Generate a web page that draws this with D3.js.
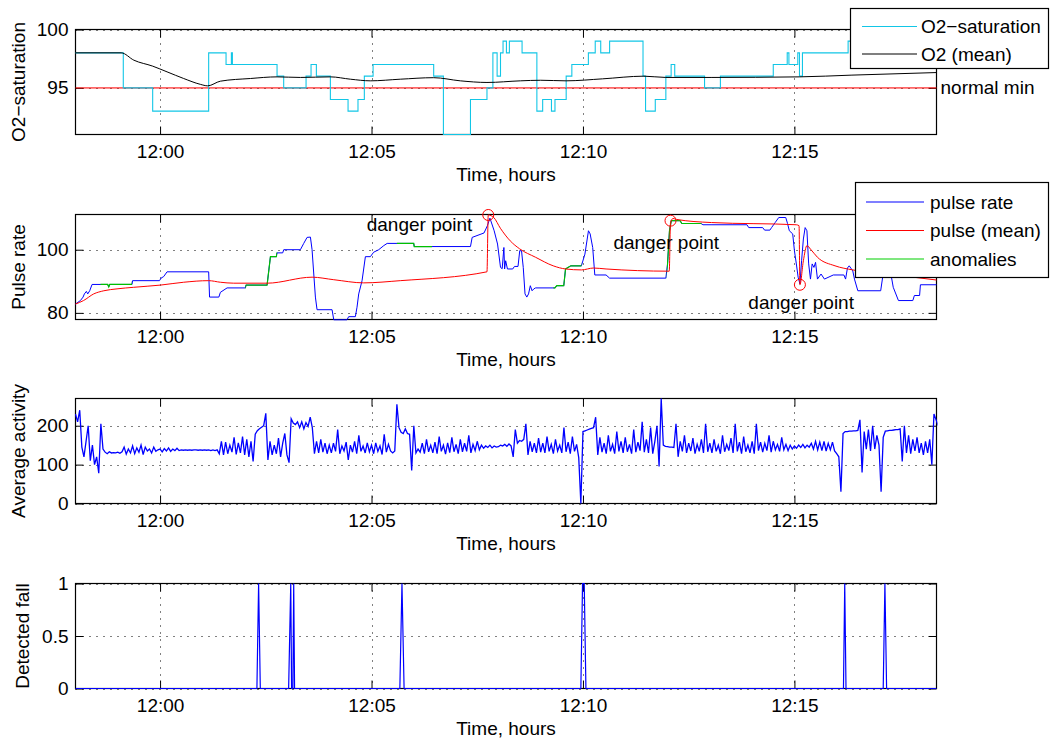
<!DOCTYPE html>
<html><head><meta charset="utf-8">
<script src="https://cdn.jsdelivr.net/npm/d3@7"></script>
<style>
body{margin:0;background:#fff;}
text{font-family:"Liberation Sans",Arial,Helvetica,sans-serif;fill:#000;}
</style></head><body>
<svg id="c" width="1051" height="741"></svg>
<script>
// ---------- DATA (time in minutes relative to 12:00) ----------
const o2Time  = [-2.0,-0.87,-0.175,1.149,1.56,1.686,1.71,2.766,2.923,3.452,3.57,3.696,4.027,4.445,4.68,4.83,5.037,6.47,6.70,7.34,7.73,7.87,7.97,8.05,8.11,8.19,8.26,8.56,8.91,9.047,9.255,9.338,9.603,9.737,10.128,10.29,10.42,10.63,11.42,11.48,11.71,11.96,12.085,12.17,12.875,13.25,14.5,14.83,14.87,15.08,15.12,15.19,16.27,18.36];
const o2Value = [98,95,93,98,97,98,97,96,95,96,97,96,94,93,94,96,97,96,91,94,95,98,96,98,99,98,99,98,93,94,93,94,96,97,98,99,98,99,96,93,94,96,97,96,95,96,97,98,97,98,96,98,99,99];

const o2MeanTime  = [-2.0,-0.92,-0.62,-0.175,0.165,0.558,0.952,1.125,1.426,2.136,2.766,3.318,4.027,4.5,4.97,5.68,6.47,7.1,7.73,8.52,9.0,9.6,10.46,11.44,11.96,13.03,15.12,16.36,18.36];
const o2MeanValue = [98,98,97.37,96.86,96.37,95.8,95.3,95.17,95.57,95.8,95.94,95.89,95.94,95.74,95.6,95.74,95.87,95.6,95.46,95.6,95.65,95.6,95.77,96.0,95.89,95.89,95.94,96.09,96.31];
const o2NormalMin = 95;

const pulseTime  = [-2.0,-1.884,-1.821,-1.79,-1.743,-1.711,-1.664,-1.608,-1.238,-1.214,-1.19,-0.663,-0.65,-0.013,0.023,0.086,0.165,1.149,1.17,1.39,1.426,1.584,2.017,2.03,2.53,2.61,2.75,2.766,2.9,2.924,3.318,3.397,3.476,3.555,3.594,3.673,3.712,4.067,4.107,4.42,4.46,4.618,4.657,4.697,4.776,4.855,4.973,5.05,5.17,5.29,5.37,5.998,6.01,7.34,7.38,7.66,7.74,7.8,7.9,7.98,8.05,8.09,8.13,8.147,8.172,8.214,8.339,8.38,8.464,8.505,8.547,8.588,8.63,8.672,8.713,8.755,8.797,8.838,8.88,9.338,9.38,9.546,9.588,9.713,9.963,10.046,10.13,10.17,10.23,10.28,10.546,10.63,11.96,12.0,12.046,12.088,12.296,12.338,12.796,12.837,13.878,13.92,14.25,14.295,14.42,14.46,14.545,14.63,14.795,14.837,14.88,14.96,15.0,15.046,15.088,15.13,15.17,15.212,15.254,15.296,15.337,15.38,15.42,15.462,15.5,15.545,15.63,15.71,15.92,16.17,16.21,16.254,16.296,16.38,16.42,16.5,17.04,17.087,17.295,17.337,17.46,17.8,17.837,17.96,17.98,18.36];
const pulseValue = [82.8,83.9,85,86,86.8,86,87,89,89,88.2,89,89,90.2,90.2,91,91.5,93,93,85,85,86.5,87.9,87.9,88.8,88.8,97.8,97.8,99,99,100,100,102,103.9,104,100,85,81,81,77.8,77.8,78.8,78.8,81.8,86,90.2,97.8,97.8,99.2,100,101.3,102,102,101,101,103.9,105.3,107.6,110,106,101.8,94.4,94,100.7,93.9,96.5,93.9,93.9,94.7,94.7,99.7,99.7,94.4,86,85,86,88.6,87,87.6,87.9,87.9,88.6,88.6,93.9,94.9,94.9,98.6,106,105,100.7,92,92,91,91,95.5,106,109.2,109.2,108.3,108.3,107.9,107.9,107,107,106.2,106.2,107,108.6,110.2,110.2,108.3,106,105,99.7,95.5,91.3,89.2,96.5,103.4,107,106,95.5,90.7,95.5,94.4,96,90.7,92.3,90.7,92,92,90.7,94.2,94.9,93.3,90.7,87,87,91.3,91.3,88.1,83.9,83.9,85.5,85.5,88.9,88.9];

const pulseMeanTime  = [-2.0,-1.81,-1.57,-1.33,-1.018,-0.623,0.01,0.558,1.149,1.426,1.741,2.53,3.594,4.107,4.816,5.68,7.73,7.76,7.89,8.047,8.28,8.5,8.88,9.296,9.588,9.963,10.25,10.546,12.04,12.07,12.13,12.21,13.04,15.046,15.11,15.13,15.212,15.296,15.38,15.545,15.96,16.38,17.2,18.36];
const pulseMeanValue = [82.8,83.9,86,87,87.6,88.1,88.8,89.7,90.2,89.7,89.4,89.4,91.3,90.5,89.5,90.2,93,111,110.2,106.8,102.8,100.3,97.6,94.9,93.9,93.6,94.2,93.9,93.2,108.5,109.9,109.6,108.6,107.9,107.6,88.9,96.5,101.3,100.2,97.6,94.9,93.6,92.3,90.4];

// anomaly intervals [start, end] (minutes)
const anomalyStart = [-1.41, 2.017, 5.6, 9.3, 11.98];
const anomalyEnd   = [-0.663, 2.77, 6.43, 9.963, 12.8];

// danger points
const dangerTime  = [7.76, 12.07, 15.13];
const dangerValue = [111.0, 109.2, 88.9];

// activity: regularly sampled every 0.05 min from -2.00
const actStart = -2.0, actStep = 0.05;
const actValues = [
230,210,240,145,120,160,200,110,150,100,120,78,205,140,132,128,133,130,131,130,
132,129,133,145,127,140,130,148,128,143,132,150,126,145,135,140,130,145,134,138,
140,133,141,135,143,134,140,136,142,136,138,137,138,137,138,137,138,138,137,138,
137,138,137,138,136,138,136,138,128,160,125,158,128,150,132,170,126,156,130,172,
125,165,120,160,108,178,187,192,196,200,232,112,160,125,150,128,168,120,155,180,
125,105,218,207,203,210,195,210,192,208,198,222,195,128,160,130,165,132,155,128,
150,130,155,134,190,128,148,135,158,112,150,132,160,128,175,134,148,130,156,133,
150,128,156,134,148,126,178,132,152,135,130,135,255,195,183,180,192,180,178,85,
200,130,140,132,155,128,165,133,150,130,158,128,172,134,150,127,156,131,170,133,
152,128,165,133,155,134,175,130,152,136,160,138,150,142,148,144,150,143,148,145,
146,150,148,152,147,153,148,120,190,155,162,160,165,205,125,160,133,155,130,168,
132,155,130,172,134,152,128,165,135,150,130,195,133,158,128,172,134,152,118,0,
185,187,189,191,193,195,222,125,170,132,155,128,175,134,152,128,185,134,160,130,
170,133,152,128,190,132,158,136,210,132,165,130,195,128,160,200,95,270,150,147,
146,145,145,144,205,120,160,134,175,130,155,135,168,128,152,134,165,130,205,133,
155,130,165,134,150,128,175,133,152,136,168,130,205,134,158,128,172,133,150,130,
160,128,205,136,158,132,155,136,175,132,160,138,152,134,170,138,152,136,150,140,
148,142,150,144,152,143,150,145,155,140,160,138,158,136,160,135,155,138,158,135,
128,120,30,180,185,185,186,186,187,187,188,215,80,185,140,190,135,200,140,175,
150,30,170,186,187,188,188,189,190,190,192,108,200,130,175,128,165,135,170,130,
155,125,160,130,165,100,230,215,200];

const fallTime  = [-2.0,2.29,2.33,2.37,3.04,3.09,3.11,3.14,3.16,3.18,5.67,5.72,5.77,9.95,9.99,10.03,10.07,16.16,16.19,16.22,17.10,17.14,17.18,18.36];
const fallValue = [0,0,1,0,0,1,0,0,1,0,0,1,0,0,1,1,0,0,1,0,0,1,0,0];

const o2Ticks = [95, 100], pulseTicks = [80, 100], actTicks = [0, 100, 200], fallTicks = [0, 0.5, 1];
const yLabels = ["O2\u2212saturation", "Pulse rate", "Average activity", "Detected fall"];
const xLabel = "Time, hours";

// ---------- LAYOUT ----------
const svg = d3.select('#c');
const FS = 19;
const X0 = 75.5, X1 = 936.5, H = 105;
const tops = [29.5, 214.5, 398.5, 583.5];
const base = new Date(2000, 0, 1, 12, 0, 0);
const T = m => new Date(base.getTime() + m * 60000);
const x = d3.scaleTime().domain([T(-2.0), T(18.36)]).range([X0, X1]);
const xTicks = x.ticks(d3.timeMinute.every(5));
const fmt = d3.timeFormat('%H:%M');
const yFmt = d => String(d);

function panel(i, domain, ticks, label, ylabX) {
  const top = tops[i], bot = top + H;
  const y = d3.scaleLinear().domain(domain).range([bot, top]);
  const g = svg.append('g');
  // grid
  g.selectAll(null).data(xTicks).join('line')
    .attr('x1', d => Math.round(x(d)) + 0.5).attr('x2', d => Math.round(x(d)) + 0.5)
    .attr('y1', top).attr('y2', bot)
    .attr('stroke', '#000').attr('stroke-width', 1).attr('stroke-dasharray', '1,6');
  g.selectAll(null).data(ticks).join('line')
    .attr('x1', X0).attr('x2', X1)
    .attr('y1', d => Math.round(y(d)) + 0.5).attr('y2', d => Math.round(y(d)) + 0.5)
    .attr('stroke', '#000').attr('stroke-width', 1).attr('stroke-dasharray', '1,6');
  // frame
  g.append('rect').attr('x', X0).attr('y', top).attr('width', X1 - X0).attr('height', H)
    .attr('fill', 'none').attr('stroke', '#000').attr('stroke-width', 1.2);
  // axes
  const ax = (gen, tx, ty, labels) => {
    const a = g.append('g').attr('transform', `translate(${tx},${ty})`).call(gen);
    a.select('.domain').remove();
    a.selectAll('line').attr('stroke', '#000');
    a.selectAll('text').attr('font-size', FS).attr('font-family', '"Liberation Sans",Arial,sans-serif');
    if (!labels) a.selectAll('text').remove();
    return a;
  };
  ax(d3.axisBottom(x).tickValues(xTicks).tickFormat(fmt).tickSize(-8).tickPadding(10), 0, bot, true);
  ax(d3.axisTop(x).tickValues(xTicks).tickSize(-8), 0, top, false);
  ax(d3.axisLeft(y).tickValues(ticks).tickFormat(yFmt).tickSize(-8).tickPadding(7), X0, 0, true);
  ax(d3.axisRight(y).tickValues(ticks).tickSize(-8), X1, 0, false);
  // labels
  g.append('text').attr('x', (X0 + X1) / 2).attr('y', bot + 46).attr('text-anchor', 'middle')
    .attr('font-size', FS).text(xLabel);
  g.append('text').attr('transform', `translate(${ylabX},${top + H / 2}) rotate(-90)`)
    .attr('text-anchor', 'middle').attr('font-size', FS).text(label);
  // clip
  svg.append('clipPath').attr('id', 'clip' + i).append('rect')
    .attr('x', X0 - 1).attr('y', top - 1.5).attr('width', X1 - X0 + 2).attr('height', H + 3);
  const plot = svg.append('g').attr('clip-path', `url(#clip${i})`);
  return { y, plot, top, bot };
}

const line = (y, curve) => d3.line().x(d => x(T(d[0]))).y(d => y(d[1])).curve(curve || d3.curveLinear);
const zip = (a, b) => a.map((v, i) => [v, b[i]]);

// ---------- PANEL 1: O2 ----------
const p1 = panel(0, [91, 100], o2Ticks, yLabels[0], 24.5);
p1.plot.append('line').attr('x1', X0).attr('x2', X1)
  .attr('y1', p1.y(o2NormalMin)).attr('y2', p1.y(o2NormalMin))
  .attr('stroke', '#ff0000').attr('stroke-width', 1.6).attr('opacity', 0.6);
p1.plot.append('path').datum(zip(o2Time, o2Value)).attr('d', line(p1.y, d3.curveStepAfter))
  .attr('fill', 'none').attr('stroke', '#12c6e6').attr('stroke-width', 1.1);
p1.plot.append('path').datum(zip(o2MeanTime, o2MeanValue)).attr('d', line(p1.y, d3.curveMonotoneX))
  .attr('fill', 'none').attr('stroke', '#000').attr('stroke-width', 1);
svg.append('text').attr('x', X1 + 4).attr('y', p1.y(o2NormalMin)).attr('dy', '0.35em')
  .attr('font-size', FS).text('normal min');

// ---------- PANEL 2: Pulse ----------
const p2 = panel(1, [77.9, 111.15], pulseTicks, yLabels[1], 24.5);
const pulseData = zip(pulseTime, pulseValue);
p2.plot.append('path').datum(pulseData).attr('d', line(p2.y))
  .attr('fill', 'none').attr('stroke', '#0000ff').attr('stroke-width', 1);
anomalyStart.forEach((s, k) => {
  const id = 'anom' + k;
  svg.append('clipPath').attr('id', id).append('rect')
    .attr('x', x(T(s))).attr('y', p2.top - 2).attr('width', x(T(anomalyEnd[k])) - x(T(s))).attr('height', H + 4);
  p2.plot.append('g').attr('clip-path', `url(#${id})`).append('path').datum(pulseData)
    .attr('d', line(p2.y)).attr('fill', 'none').attr('stroke', '#00c000').attr('stroke-width', 1.2);
});
p2.plot.append('path').datum(zip(pulseMeanTime, pulseMeanValue)).attr('d', line(p2.y, d3.curveMonotoneX))
  .attr('fill', 'none').attr('stroke', '#ff0000').attr('stroke-width', 1);
svg.append('g').selectAll('circle').data(zip(dangerTime, dangerValue)).join('circle')
  .attr('cx', d => x(T(d[0]))).attr('cy', d => p2.y(d[1])).attr('r', 5.5)
  .attr('fill', 'none').attr('stroke', '#ff0000').attr('stroke-width', 1);
const dangerLabelTime = [7.385, 10.72, 13.91], dangerLabelValue = [107.9, 102.2, 83.3];
const dangerAnchor = ['end', 'start', 'start'];
dangerLabelTime.forEach((t, k) => {
  svg.append('text').attr('x', x(T(t))).attr('y', p2.y(dangerLabelValue[k])).attr('dy', '0.35em')
    .attr('text-anchor', dangerAnchor[k]).attr('font-size', FS).text('danger point');
});

// ---------- PANEL 3: Activity ----------
const p3 = panel(2, [0, 270], actTicks, yLabels[2], 24.5);
const actData = actValues.map((v, i) => [actStart + i * actStep, v]);
p3.plot.append('path').datum(actData).attr('d', line(p3.y))
  .attr('fill', 'none').attr('stroke', '#0000ff').attr('stroke-width', 1.3);

// ---------- PANEL 4: Fall ----------
const p4 = panel(3, [0, 1], fallTicks, yLabels[3], 28.5);
p4.plot.append('path').datum(zip(fallTime, fallValue)).attr('d', line(p4.y))
  .attr('fill', 'none').attr('stroke', '#0000ff').attr('stroke-width', 1.2);

// ---------- LEGENDS ----------
function legend(x0, y0, w, h, items, lx0, lx1, tx, rowY) {
  const g = svg.append('g');
  g.append('rect').attr('x', x0).attr('y', y0).attr('width', w).attr('height', h)
    .attr('fill', '#fff').attr('stroke', '#000').attr('stroke-width', 1.2);
  items.forEach((it, k) => {
    g.append('line').attr('x1', lx0).attr('x2', lx1).attr('y1', rowY[k]).attr('y2', rowY[k])
      .attr('stroke', it[1]).attr('stroke-width', 1.2);
    g.append('text').attr('x', tx).attr('y', rowY[k]).attr('dy', '0.35em').attr('font-size', FS).text(it[0]);
  });
}
legend(850.5, 8.5, 198, 60, [["O2\u2212saturation", '#12c6e6'], ["O2 (mean)", '#000']], 862, 917, 921, [26.5, 54]);
legend(855.5, 182.5, 193, 95, [["pulse rate", '#0000ff'], ["pulse (mean)", '#ff0000'], ["anomalies", '#00d000']], 866, 924, 930, [202, 230.5, 259]);
</script>
</body></html>
